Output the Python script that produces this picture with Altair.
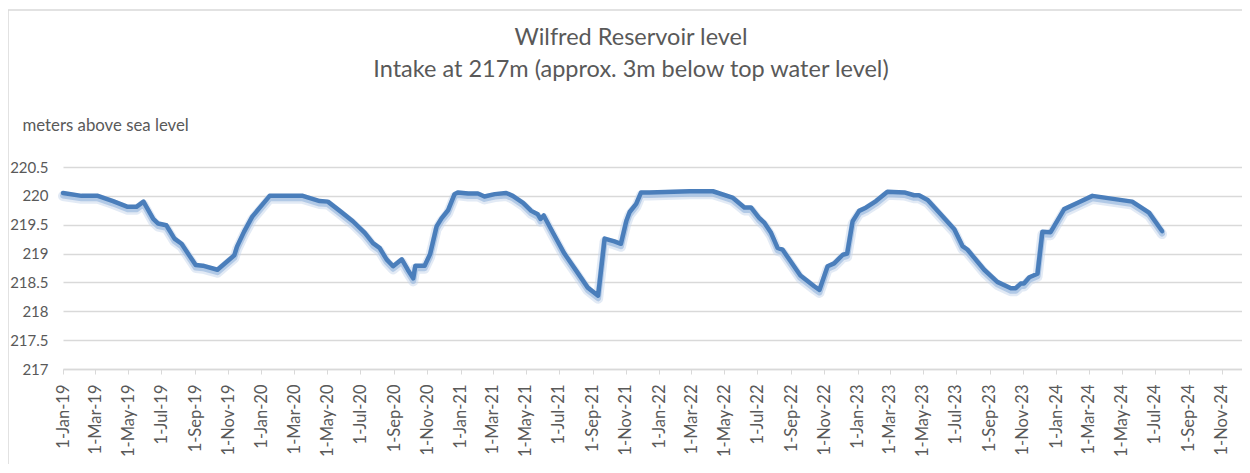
import altair as alt
import pandas as pd

title_lines = ["Wilfred Reservoir level", "Intake at 217m (approx. 3m below top water level)"]
y_title = "meters above sea level"

dates = [
    "2019-01-01", "2019-02-04", "2019-03-06", "2019-04-03", "2019-04-30", "2019-05-16",
    "2019-05-29", "2019-06-16", "2019-06-25", "2019-07-10", "2019-07-25", "2019-08-07",
    "2019-09-02", "2019-09-15", "2019-10-12", "2019-11-12", "2019-11-17", "2019-11-30",
    "2019-12-15", "2020-01-16", "2020-03-17", "2020-04-17", "2020-05-02", "2020-05-24",
    "2020-06-17", "2020-07-09", "2020-07-24", "2020-08-05", "2020-08-18", "2020-08-30",
    "2020-09-15", "2020-09-26", "2020-10-06", "2020-10-10", "2020-10-27", "2020-11-06",
    "2020-11-18", "2020-11-27", "2020-12-09", "2020-12-21", "2020-12-27", "2021-01-15",
    "2021-02-02", "2021-02-14", "2021-03-05", "2021-03-26", "2021-04-07", "2021-04-26",
    "2021-05-11", "2021-05-23", "2021-05-28", "2021-06-03", "2021-06-20", "2021-07-11",
    "2021-08-02", "2021-08-23", "2021-09-11", "2021-09-23", "2021-10-11", "2021-10-23",
    "2021-11-02", "2021-11-08", "2021-11-20", "2021-11-29", "2021-12-14", "2022-02-26",
    "2022-04-10", "2022-05-16", "2022-06-07", "2022-06-19", "2022-07-04", "2022-07-14",
    "2022-07-26", "2022-08-07", "2022-08-16", "2022-09-18", "2022-10-14", "2022-10-23",
    "2022-11-07", "2022-11-19", "2022-12-05", "2022-12-13", "2022-12-23", "2023-01-04",
    "2023-01-17", "2023-02-04", "2023-02-25", "2023-03-28", "2023-04-15", "2023-04-24",
    "2023-05-10", "2023-06-03", "2023-06-28", "2023-07-13", "2023-07-22", "2023-08-22",
    "2023-09-15", "2023-10-10", "2023-10-19", "2023-10-28", "2023-11-03", "2023-11-13",
    "2023-11-28", "2023-12-07", "2023-12-22", "2024-01-16", "2024-02-12", "2024-03-08",
    "2024-05-20", "2024-06-20", "2024-07-14",
]
levels = [
    220.05, 220.00, 220.00, 219.91, 219.81, 219.81,
    219.90, 219.60, 219.52, 219.49, 219.26, 219.17,
    218.80, 218.79, 218.72, 218.97, 219.12, 219.38,
    219.64, 220.00, 220.00, 219.91, 219.90, 219.74,
    219.56, 219.36, 219.18, 219.10, 218.90, 218.78,
    218.90, 218.72, 218.57, 218.79, 218.79, 218.99,
    219.47, 219.61, 219.75, 220.03, 220.06, 220.04,
    220.04, 219.99, 220.03, 220.05, 220.00, 219.88,
    219.74, 219.68, 219.60, 219.66, 219.36, 219.00,
    218.70, 218.41, 218.27, 219.26, 219.21, 219.17,
    219.57, 219.72, 219.86, 220.06, 220.06, 220.08,
    220.08, 219.97, 219.80, 219.80, 219.62, 219.53,
    219.36, 219.10, 219.07, 218.62, 218.43, 218.37,
    218.78, 218.83, 218.98, 219.00, 219.56, 219.74,
    219.80, 219.91, 220.07, 220.06, 220.01, 220.01,
    219.93, 219.68, 219.42, 219.13, 219.07, 218.72,
    218.51, 218.40, 218.40, 218.48, 218.48, 218.59,
    218.65, 219.38, 219.37, 219.77, 219.89, 220.00,
    219.90, 219.71, 219.39,
]
tick_dates = [f"{y}-{m:02d}-01" for y in range(2019, 2025) for m in (1, 3, 5, 7, 9, 11)]
y_ticks = [217, 217.5, 218, 218.5, 219, 219.5, 220, 220.5]

df = pd.DataFrame({"date": pd.to_datetime(dates), "level": levels})

W, H = 1179, 202
FONT = "Lato"
GREY = "#595959"

x_enc = alt.X(
    "date:T",
    scale=alt.Scale(domain=["2019-01-01", "2024-12-08"]),
    axis=alt.Axis(
        values=tick_dates, format="%-d-%b-%y", labelAngle=-90, title=None,
        grid=False, domainColor="#d9d9d9", domainWidth=1.5, tickColor="#d9d9d9",
        tickSize=5, labelColor=GREY, labelFont=FONT, labelFontSize=16.5, labelPadding=10,
    ),
)
y_enc = alt.Y(
    "level:Q",
    scale=alt.Scale(domain=[217, 220.5], nice=False),
    axis=alt.Axis(
        values=y_ticks, format="~g", grid=True, gridColor="#d9d9d9", gridWidth=1.5,
        domain=False, ticks=False, labelColor=GREY, labelFont=FONT, labelFontSize=15,
        labelPadding=15, title=y_title, titleAngle=0,
        titleX=-41, titleY=-42, titleAlign="left", titleBaseline="middle",
        titleFont=FONT, titleFontSize=16.8, titleFontWeight="normal", titleColor=GREY,
    ),
)

base = alt.Chart(df)
glow_wide = base.mark_line(color="#c6d6ec", strokeWidth=10, opacity=0.5, yOffset=3,
                           strokeJoin="round", strokeCap="round").encode(x=x_enc, y=y_enc)
glow = base.mark_line(color="#9dbbe0", strokeWidth=6, opacity=0.7, yOffset=2.5,
                      strokeJoin="round", strokeCap="round").encode(x=x_enc, y=y_enc)
main = base.mark_line(color="#4a7ebb", strokeWidth=4.5, strokeJoin="round",
                      strokeCap="round").encode(x=x_enc, y=y_enc)

frame_df = pd.DataFrame({"k": [0]})
left_border = alt.Chart(frame_df).mark_rule(color="#d9d9d9", strokeWidth=1.5).encode(
    x=alt.value(-55), y=alt.value(-157), y2=alt.value(H + 95))
top_border = alt.Chart(frame_df).mark_rule(color="#d9d9d9", strokeWidth=1.5).encode(
    x=alt.value(-55), x2=alt.value(W + 10), y=alt.value(-157))

title1 = alt.Chart(pd.DataFrame({"t": [title_lines[0]]})).mark_text(
    font=FONT, fontSize=23.5, color=GREY, align="center", baseline="middle").encode(
    text="t:N", x=alt.value(568), y=alt.value(-129))
title2 = alt.Chart(pd.DataFrame({"t": [title_lines[1]]})).mark_text(
    font=FONT, fontSize=23.5, color=GREY, align="center", baseline="middle").encode(
    text="t:N", x=alt.value(568), y=alt.value(-97))

chart = alt.layer(glow_wide, glow, main, left_border, top_border, title1, title2).properties(
    width=W, height=H,
    padding={"left": 55, "top": 159, "right": 0, "bottom": 95},
    autosize=alt.AutoSizeParams(type="none"),
).configure_view(stroke=None)

chart.save("out.html", embed_options={"renderer": "svg", "actions": False})
